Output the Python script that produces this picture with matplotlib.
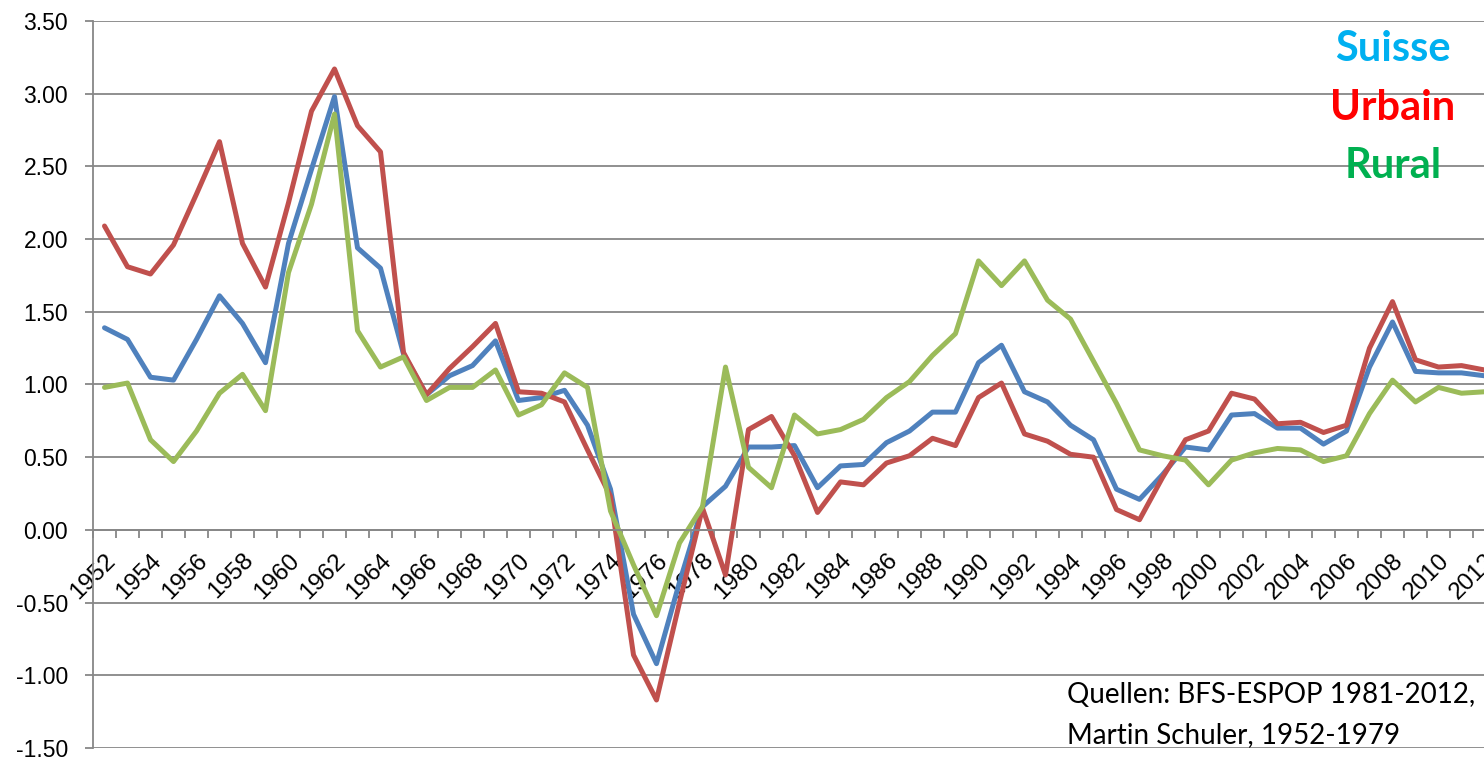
import matplotlib.pyplot as plt

plt.rcParams['axes.unicode_minus'] = False

years = list(range(1952, 2013))

suisse = [1.39, 1.31, 1.05, 1.03, 1.31, 1.61, 1.42, 1.15, 1.97, 2.48,
          2.98, 1.94, 1.80, 1.21, 0.93, 1.06, 1.13, 1.30, 0.89, 0.91,
          0.96, 0.72, 0.28, -0.58, -0.92, -0.36, 0.16, 0.30, 0.57, 0.57,
          0.58, 0.29, 0.44, 0.45, 0.60, 0.68, 0.81, 0.81, 1.15, 1.27,
          0.95, 0.88, 0.72, 0.62, 0.28, 0.21, 0.38, 0.57, 0.55, 0.79,
          0.80, 0.70, 0.70, 0.59, 0.68, 1.12, 1.43, 1.09, 1.08, 1.08,
          1.06]
urbain = [2.09, 1.81, 1.76, 1.96, 2.31, 2.67, 1.97, 1.67, 2.25, 2.88,
          3.17, 2.78, 2.60, 1.22, 0.93, 1.11, 1.26, 1.42, 0.95, 0.94,
          0.88, 0.55, 0.23, -0.86, -1.17, -0.50, 0.15, -0.31, 0.69, 0.78,
          0.51, 0.12, 0.33, 0.31, 0.46, 0.51, 0.63, 0.58, 0.91, 1.01,
          0.66, 0.61, 0.52, 0.50, 0.14, 0.07, 0.36, 0.62, 0.68, 0.94,
          0.90, 0.73, 0.74, 0.67, 0.72, 1.25, 1.57, 1.17, 1.12, 1.13,
          1.10]
rural = [0.98, 1.01, 0.62, 0.47, 0.68, 0.94, 1.07, 0.82, 1.77, 2.24,
         2.86, 1.37, 1.12, 1.19, 0.89, 0.98, 0.98, 1.10, 0.79, 0.86,
         1.08, 0.98, 0.13, -0.24, -0.59, -0.09, 0.16, 1.12, 0.43, 0.29,
         0.79, 0.66, 0.69, 0.76, 0.91, 1.02, 1.20, 1.35, 1.85, 1.68,
         1.85, 1.58, 1.45, 1.16, 0.87, 0.55, 0.51, 0.48, 0.31, 0.48,
         0.53, 0.56, 0.55, 0.47, 0.51, 0.80, 1.03, 0.88, 0.98, 0.94,
         0.95]

fig = plt.figure(figsize=(14.84, 7.6), dpi=100)
W, H = 1484, 760
# axes runs a little past the right edge, like the cropped original
ax = fig.add_axes([93 / W, 12 / H, (1496 - 93) / W, (748 - 21) / H])

kw = dict(lw=3.6, solid_joinstyle='round', solid_capstyle='round')
ax.plot(years, suisse, color='#4F81BD', **kw)
ax.plot(years, urbain, color='#C0504D', **kw)
ax.plot(years, rural, color='#9BBB59', **kw)

ax.set_xlim(1951.5, 2012.5)
ax.set_ylim(-1.5, 3.5)

# spines first: set_position resets the ticks
for s in ['top', 'right']:
    ax.spines[s].set_visible(False)
ax.spines['bottom'].set_position(('data', 0))
ax.spines['bottom'].set_color('#878787')
ax.spines['bottom'].set_linewidth(1.3)
ax.spines['left'].set_color('#878787')
ax.spines['left'].set_linewidth(1.3)

ax.tick_params(axis='x', which='major', length=0, pad=14)
ax.tick_params(axis='x', which='minor', length=6, width=1.3, color='#878787')
ax.tick_params(axis='y', length=6, width=1.3, color='#878787', pad=12)

yt = [-1.5 + 0.5 * i for i in range(11)]
ax.set_yticks(yt)
ax.set_yticklabels(['%.2f' % v for v in yt], fontsize=16.5, family='Liberation Sans')
ax.yaxis.grid(True, color='#878787', lw=1.3)
ax.set_axisbelow(True)

ax.set_xticks(years[::2])
ax.set_xticklabels([str(y) for y in years[::2]], rotation=45, ha='right',
                   va='top', rotation_mode='anchor', fontsize=17.5,
                   family='Liberation Sans')
ax.set_xticks([y - 0.5 for y in years], minor=True)

lab = dict(ha='center', va='center', fontsize=30, fontweight='bold', family='Lato')
fig.text(1393 / W, 1 - 49 / H, 'Suisse', color='#00B0F0', **lab)
fig.text(1393 / W, 1 - 108 / H, 'Urbain', color='#FF0000', **lab)
fig.text(1393 / W, 1 - 166 / H, 'Rural', color='#00B050', **lab)

src = dict(ha='left', va='center', fontsize=20, family='Lato', color='black')
fig.text(1067 / W, 1 - 695 / H, 'Quellen: BFS-ESPOP 1981-2012,', **src)
fig.text(1067 / W, 1 - 735 / H, 'Martin Schuler, 1952-1979', **src)

fig.savefig('out.png', dpi=100)
